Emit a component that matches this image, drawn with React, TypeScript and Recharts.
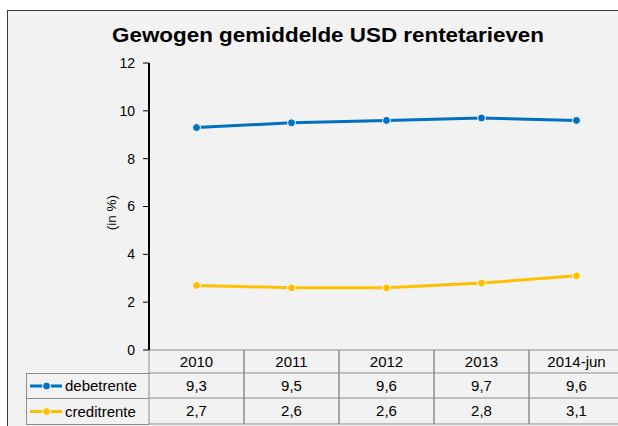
import { LineChart, Line, XAxis, YAxis, Legend } from "recharts";

const categories = ["2010", "2011", "2012", "2013", "2014-jun"];
const debetrente = [9.3, 9.5, 9.6, 9.7, 9.6];
const creditrente = [2.7, 2.6, 2.6, 2.8, 3.1];
const yTicks = [0, 2, 4, 6, 8, 10, 12];
const seriesNames = ["debetrente", "creditrente"];
const seriesColors = ["#0070C0", "#FFC000"];

const data = categories.map((cat, i) => ({
  cat,
  [seriesNames[0]]: debetrente[i],
  [seriesNames[1]]: creditrente[i],
}));

// layout
const CHART_W = 640;
const CHART_H = 426;
const PLOT_LEFT = 149;
const PLOT_RIGHT = 624;
const PLOT_TOP = 63;
const PLOT_BOTTOM = 350;
const ROW1 = 373;
const ROW2 = 398;
const ROW3 = 424;
const GRID = "#8c8c8c";
const FONT = "'Liberation Sans', Arial, sans-serif";

const fmt = (v: number) => v.toFixed(1).replace(".", ",");
const band = (PLOT_RIGHT - PLOT_LEFT) / categories.length;

const TableTick = ({ x, payload, index }: any) => {
  const l = x - band / 2;
  const r = x + band / 2;
  const vals = [debetrente[index], creditrente[index]];
  return (
    <g fontFamily={FONT} fontSize={15} fill="#000">
      <line x1={l} y1={PLOT_BOTTOM} x2={l} y2={ROW3} stroke={GRID} />
      <line x1={r} y1={PLOT_BOTTOM} x2={r} y2={ROW3} stroke={GRID} />
      <line x1={l} y1={ROW1} x2={r} y2={ROW1} stroke={GRID} />
      <line x1={l} y1={ROW2} x2={r} y2={ROW2} stroke={GRID} />
      <line x1={l} y1={ROW3} x2={r} y2={ROW3} stroke={GRID} />
      <text x={x} y={(PLOT_BOTTOM + ROW1) / 2 + 5} textAnchor="middle">
        {payload.value}
      </text>
      <text x={x} y={(ROW1 + ROW2) / 2 + 5} textAnchor="middle">
        {fmt(vals[0])}
      </text>
      <text x={x} y={(ROW2 + ROW3) / 2 + 5} textAnchor="middle">
        {fmt(vals[1])}
      </text>
    </g>
  );
};

const LegendTable = ({ payload }: any) => {
  const w = PLOT_LEFT - 26;
  const rows = [ROW1 - ROW1, ROW2 - ROW1, ROW3 - ROW1];
  // keep the series order of the table
  const items = [...(payload || [])].sort(
    (a: any, b: any) => seriesNames.indexOf(a.value) - seriesNames.indexOf(b.value)
  );
  return (
    <svg
      width={w + 2}
      height={ROW3 - ROW1 + 2}
      style={{ position: "absolute", left: 26, top: ROW1, overflow: "visible" }}
    >
      <line x1={0.5} y1={0} x2={0.5} y2={rows[2]} stroke={GRID} />
      {rows.map((ry) => (
        <line key={ry} x1={0} y1={ry + 0.5} x2={w} y2={ry + 0.5} stroke={GRID} />
      ))}
      {items.map((entry: any, i: number) => {
        const cy = (rows[i] + rows[i + 1]) / 2 + 0.5;
        return (
          <g key={entry.value}>
            <line x1={4} y1={cy} x2={36} y2={cy} stroke={entry.color} strokeWidth={3} />
            <circle cx={20.5} cy={cy} r={4} fill={entry.color} stroke="#fff" strokeWidth={1} />
            <text x={39} y={cy + 5} fontFamily={FONT} fontSize={15} fill="#000">
              {entry.value}
            </text>
          </g>
        );
      })}
    </svg>
  );
};

const YLabel = ({ viewBox }: any) => {
  const cx = 111;
  const cy = viewBox.y + viewBox.height / 2 + 6;
  return (
    <text
      x={cx}
      y={cy}
      transform={`rotate(-90 ${cx} ${cy})`}
      textAnchor="middle"
      dominantBaseline="central"
      fontFamily={FONT}
      fontSize={13.5}
      fill="#000"
    >
      (in %)
    </text>
  );
};

export default function App() {
  return (
    <div
      style={{
        position: "fixed",
        left: 0,
        top: 0,
        width: 618,
        height: 426,
        overflow: "hidden",
        background: "#fff",
      }}
    >
      <div
        style={{
          position: "absolute",
          left: 7,
          top: 10,
          width: 700,
          height: 500,
          border: "1px solid #3a3a3a",
          background: "#f2f2f2",
        }}
      />
      <svg
        width={618}
        height={60}
        style={{ position: "absolute", left: 0, top: 0 }}
      >
        <text
          x={328}
          y={42}
          textAnchor="middle"
          fontFamily={FONT}
          fontWeight="bold"
          fontSize={20}
          textLength={432}
          lengthAdjust="spacingAndGlyphs"
          fill="#000"
        >
          Gewogen gemiddelde USD rentetarieven
        </text>
      </svg>
      <div style={{ position: "absolute", left: 0, top: 0 }}>
        <LineChart
          width={CHART_W}
          height={CHART_H}
          data={data}
          margin={{ top: PLOT_TOP, right: CHART_W - PLOT_RIGHT, bottom: 2, left: 111 }}
        >
          <XAxis
            dataKey="cat"
            scale="band"
            interval={0}
            height={CHART_H - PLOT_BOTTOM - 2}
            axisLine={{ stroke: GRID }}
            tickLine={false}
            tick={<TableTick />}
          />
          <YAxis
            width={PLOT_LEFT - 111}
            domain={[0, 12]}
            ticks={yTicks}
            interval={0}
            tickSize={6}
            tickMargin={8}
            axisLine={{ stroke: "#000", strokeWidth: 2 }}
            tickLine={{ stroke: "#000", strokeWidth: 1 }}
            tick={{ fill: "#000", fontSize: 14, fontFamily: FONT }}
            label={<YLabel />}
          />
          <Legend
            layout="horizontal"
            verticalAlign="middle"
            align="center"
            content={<LegendTable />}
            wrapperStyle={{ left: 0, top: 0, width: 0, height: 0 }}
          />
          {seriesNames.map((name, i) => (
            <Line
              key={name}
              dataKey={name}
              name={name}
              stroke={seriesColors[i]}
              strokeWidth={3}
              dot={{ r: 4, fill: seriesColors[i], stroke: "#fff", strokeWidth: 1 }}
              activeDot={false}
              isAnimationActive={false}
            />
          ))}
        </LineChart>
      </div>
    </div>
  );
}
